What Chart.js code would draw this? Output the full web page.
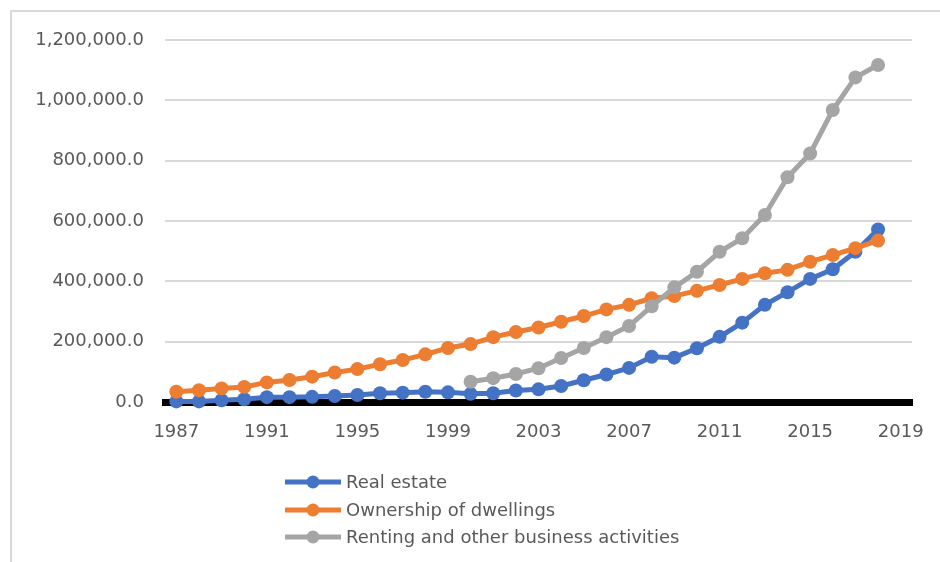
<!DOCTYPE html>
<html>
<head>
<meta charset="utf-8">
<script src="https://cdn.jsdelivr.net/npm/chart.js@4/dist/chart.umd.min.js"></script>
<style>
  html, body { margin: 0; padding: 0; background: #fff; }
  canvas { display: block; }
</style>
</head>
<body>
<canvas id="realEstateChart" width="940" height="562"></canvas>
<script>
const years = ['1987', '1988', '1989', '1990', '1991', '1992', '1993', '1994', '1995', '1996', '1997',
    '1998', '1999', '2000', '2001', '2002', '2003', '2004', '2005', '2006', '2007', '2008', '2009',
    '2010', '2011', '2012', '2013', '2014', '2015', '2016', '2017', '2018', '2019'];

// one value per year, 2019 has no data
const realEstate = [2000, 2000, 6000, 9000, 16000, 16000, 17000, 20000, 23000, 29000, 31000,
    34000, 32000, 27000, 29000, 38000, 42000, 53000, 72000, 91000, 113000, 150000, 147000,
    178000, 216000, 263000, 322000, 364000, 408000, 440000, 498000, 572000, null];

const ownershipDwellings = [34000, 39000, 45000, 50000, 65000, 73000, 84000, 98000, 109000, 125000, 139000,
    158000, 179000, 192000, 215000, 232000, 247000, 266000, 285000, 307000, 322000, 344000, 351000,
    369000, 388000, 408000, 427000, 438000, 465000, 487000, 510000, 535000, null];

const rentingBusiness = [null, null, null, null, null, null, null, null, null, null, null,
    null, null, 67000, 79000, 93000, 112000, 146000, 179000, 215000, 252000, 317000, 380000,
    432000, 498000, 543000, 620000, 745000, 824000, 968000, 1076000, 1117000, null];

const yTicks = [0, 200000, 400000, 600000, 800000, 1000000, 1200000];

const textColor = '#595959';
const fontFamily = '"DejaVu Sans", sans-serif';

function serie(label, data, color, order) {
    return {
        label: label,
        data: data,
        borderColor: color,
        backgroundColor: color,
        borderWidth: 5,
        pointRadius: 7,
        pointHoverRadius: 7,
        pointBorderWidth: 0,
        tension: 0,
        clip: false,
        order: order
    };
}

// frame lines on the left and top like the original export
const framePlugin = {
    id: 'frame',
    beforeDraw(chart) {
        const c = chart.ctx;
        c.save();
        c.strokeStyle = '#D9D9D9';
        c.lineWidth = 2;
        c.beginPath();
        c.moveTo(11, 562);
        c.lineTo(11, 11);
        c.lineTo(940, 11);
        c.stroke();
        c.restore();
    }
};

// legend stacked vertically under the axis
const stackedLegend = {
    id: 'stackedLegend',
    afterDraw(chart) {
        const c = chart.ctx;
        const x0 = 285, x1 = 341, rows = [482, 510, 537];
        c.save();
        c.font = '18px ' + fontFamily;
        c.textBaseline = 'middle';
        c.textAlign = 'left';
        chart.data.datasets.forEach((ds, i) => {
            const y = rows[i];
            c.strokeStyle = ds.borderColor;
            c.lineWidth = 5;
            c.beginPath();
            c.moveTo(x0, y);
            c.lineTo(x1, y);
            c.stroke();
            c.fillStyle = ds.borderColor;
            c.beginPath();
            c.arc((x0 + x1) / 2, y, 6.5, 0, Math.PI * 2);
            c.fill();
            c.fillStyle = textColor;
            c.fillText(ds.label, 346, y + 1);
        });
        c.restore();
    }
};

const ctx = document.getElementById('realEstateChart').getContext('2d');
new Chart(ctx, {
    type: 'line',
    data: {
        labels: years,
        datasets: [
            serie('Real estate', realEstate, '#4472C4', 3),
            serie('Ownership of dwellings', ownershipDwellings, '#ED7D31', 2),
            serie('Renting and other business activities', rentingBusiness, '#A5A5A5', 1)
        ]
    },
    options: {
        responsive: false,
        animation: false,
        layout: { padding: { left: 0, top: 40, right: 28, bottom: 0 } },
        plugins: {
            legend: { display: false },
            tooltip: { enabled: false }
        },
        scales: {
            x: {
                type: 'category',
                offset: true,
                grid: { display: false, drawTicks: false },
                border: { display: true, color: '#000', width: 7 },
                ticks: {
                    autoSkip: false,
                    maxRotation: 0,
                    padding: 20,
                    color: textColor,
                    font: { family: fontFamily, size: 18 },
                    callback: function (val, i) { return i % 4 === 0 ? years[i] : ''; }
                },
                afterFit(scale) {
                    scale.height = 160;
                    scale.paddingLeft = 0;
                    scale.paddingRight = 0;
                }
            },
            y: {
                min: 0,
                max: 1200000,
                afterBuildTicks(scale) { scale.ticks = yTicks.map(v => ({ value: v })); },
                grid: { color: '#D9D9D9', lineWidth: 2, drawTicks: false },
                border: { display: false },
                ticks: {
                    padding: 21,
                    color: textColor,
                    font: { family: fontFamily, size: 18 },
                    callback: v => v.toLocaleString('en-US', { minimumFractionDigits: 1, maximumFractionDigits: 1 })
                },
                afterFit(scale) { scale.width = 165; }
            }
        }
    },
    plugins: [framePlugin, stackedLegend]
});
</script>
</body>
</html>
